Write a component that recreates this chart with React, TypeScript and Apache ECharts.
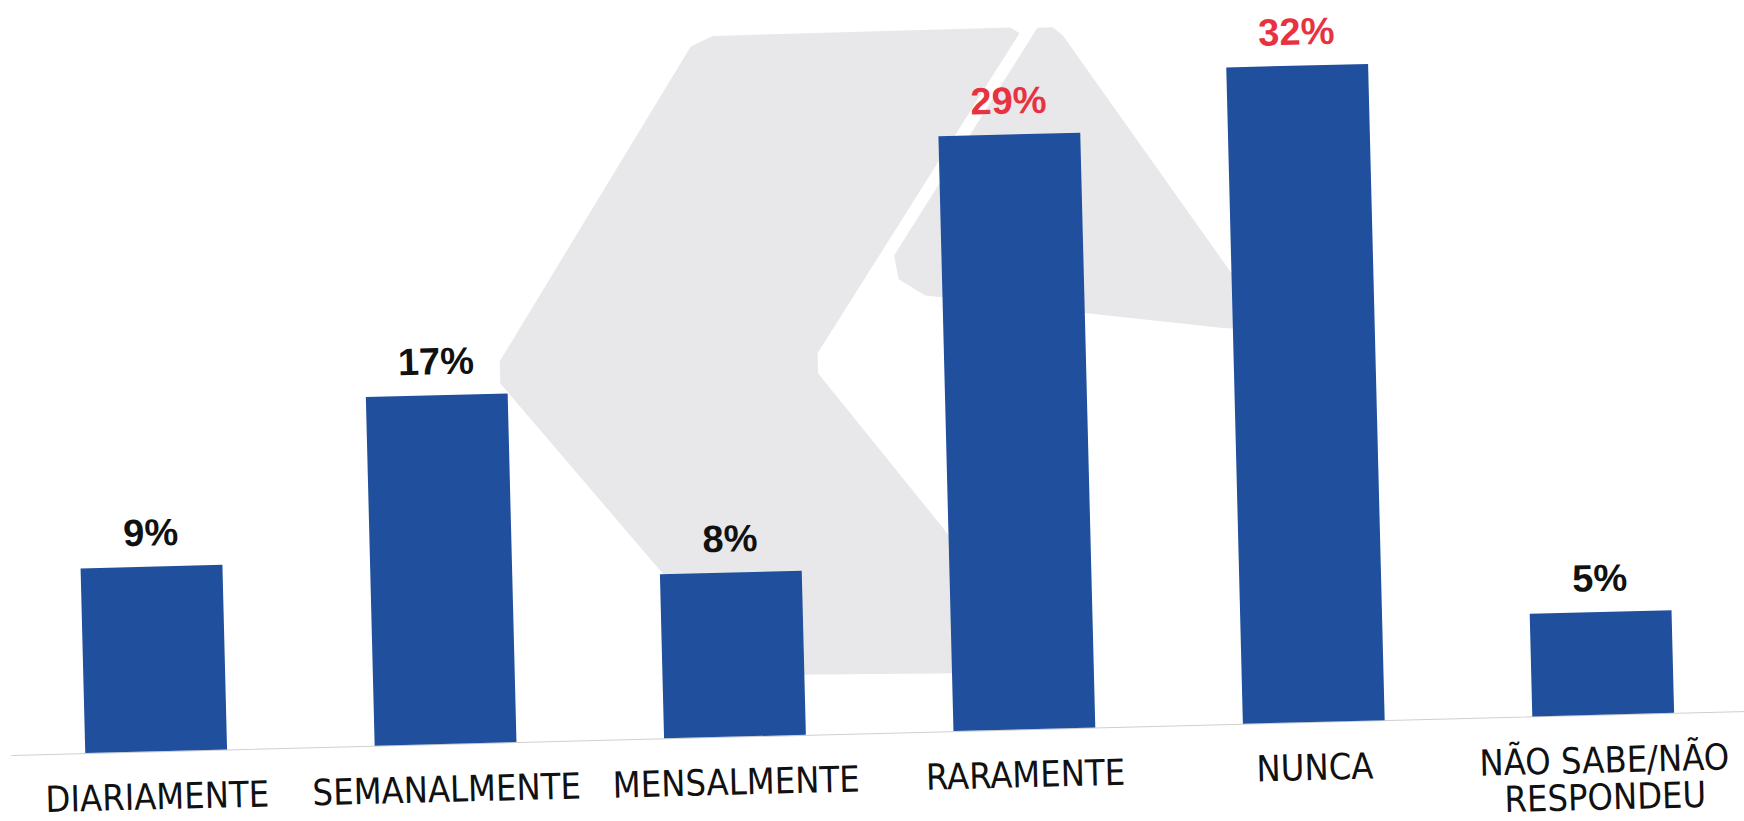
import React, { useEffect, useRef } from "react";
import * as echarts from "echarts";

const categories = ["DIARIAMENTE", "SEMANALMENTE", "MENSALMENTE", "RARAMENTE", "NUNCA", "NÃO SABE/NÃO\nRESPONDEU"];
const values = [9, 17, 8, 29, 32, 5];
const highlighted = [false, false, false, true, true, false];

const BAR_COLOR = "#1f4f9d";
const RED = "#e8323f";
const DARK = "#111111";

const watermarkLeft = [
  [722, 32], [1020, 31], [1029, 37], [819, 352], [819, 372], [1053, 677], [743, 672], [501, 374], [501, 352], [700, 42]
];
const watermarkRight = [
  [1047, 32], [1062, 32], [1072, 40], [1240, 290], [1240, 338], [1225, 337], [928, 297], [902, 280], [898, 256]
];

export default function App() {
  const ref = useRef<HTMLDivElement>(null);
  useEffect(() => {
    document.body.style.margin = "0";
    document.body.style.overflow = "hidden";
    const chart = echarts.init(ref.current!, null, { renderer: "svg" });
    chart.setOption({
      animation: false,
      backgroundColor: "#ffffff",
      graphic: {
        elements: [
          { type: "polygon", z: 0, silent: true, shape: { points: watermarkLeft }, style: { fill: "#e8e8ea" } },
          { type: "polygon", z: 0, silent: true, shape: { points: watermarkRight }, style: { fill: "#e8e8ea" } },
        ],
      },
      grid: { left: 3, right: 4, top: 15, bottom: 147, containLabel: false },
      xAxis: {
        type: "category",
        data: categories,
        axisLine: { show: true, lineStyle: { color: "#cfcfcf", width: 1 } },
        axisTick: { show: false },
        axisLabel: {
          interval: 0,
          margin: 27,
          color: DARK,
          fontSize: 36,
          lineHeight: 37,
          fontFamily: "'Liberation Sans Narrow', 'DejaVu Sans Condensed', 'Roboto', sans-serif",
        },
      },
      yAxis: { type: "value", min: 0, max: 35, show: false, splitLine: { show: false } },
      series: [
        {
          type: "bar",
          barWidth: "49%",
          z: 5,
          data: values.map((v, i) => ({
            value: v,
            itemStyle: { color: BAR_COLOR },
            label: { color: highlighted[i] ? RED : DARK },
          })),
          label: {
            show: true,
            position: "top",
            distance: 15,
            formatter: "{c}%",
            fontSize: 38,
            fontWeight: "bold",
            fontFamily: "'Liberation Sans', Arial, sans-serif",
          },
        },
      ],
    });
    return () => chart.dispose();
  }, []);
  return (
    <div
      ref={ref}
      style={{
        position: "absolute",
        left: 0,
        top: 0,
        width: 1744,
        height: 880,
        transform: "rotate(-1.45deg)",
        transformOrigin: "872px 410px",
      }}
    />
  );
}
